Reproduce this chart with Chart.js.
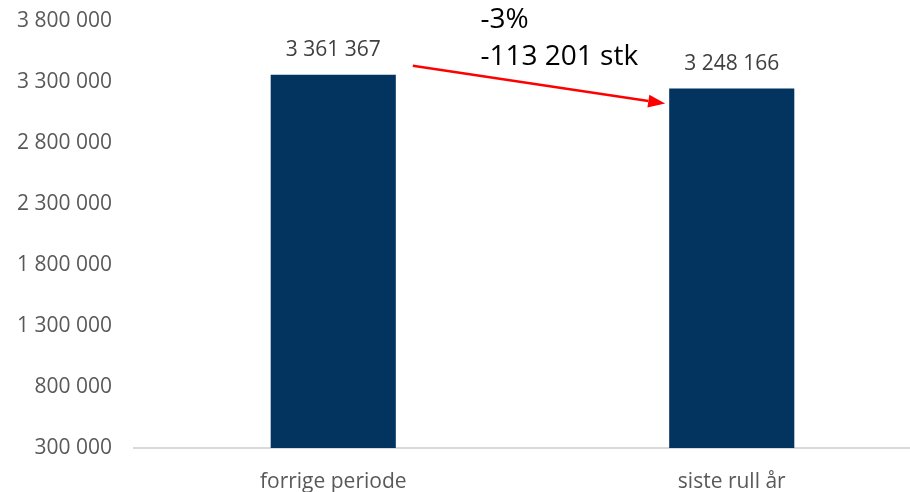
<!DOCTYPE html>
<html lang="no">
<head>
<meta charset="utf-8">
<script src="https://cdn.jsdelivr.net/npm/chart.js"></script>
<style>
    html, body { margin: 0; padding: 0; background: #fff; overflow: hidden; }
    .chart-box { width: 931px; height: 492px; position: relative; }
</style>
</head>
<body>
<div class="chart-box">
    <canvas id="salgChart"></canvas>
</div>
<script>
    const categories = ['forrige periode', 'siste rull år'];
    const values = [3361367, 3248166];
    const yMin = 300000;
    const yMax = 3800000;
    const yStep = 500000;

    const FONT = '"Open Sans", "Liberation Sans", sans-serif';

    // 3 361 367 style grouping
    function fmt(n) {
        const s = String(Math.abs(Math.round(n))).replace(/\B(?=(\d{3})+(?!\d))/g, ' ');
        return (n < 0 ? '-' : '') + s;
    }

    // value labels above the bars
    const valueLabels = {
        id: 'valueLabels',
        afterDatasetsDraw(chart) {
            const ctx = chart.ctx;
            const meta = chart.getDatasetMeta(0);
            ctx.save();
            ctx.font = '21px ' + FONT;
            ctx.fillStyle = '#404040';
            ctx.textAlign = 'center';
            ctx.textBaseline = 'middle';
            meta.data.forEach((bar, i) => {
                ctx.fillText(fmt(values[i]), bar.x, bar.y - 25);
            });
            ctx.restore();
        }
    };

    // red arrow between the bars plus change text
    const changeArrow = {
        id: 'changeArrow',
        afterDatasetsDraw(chart) {
            const ctx = chart.ctx;
            const meta = chart.getDatasetMeta(0);
            const a = meta.data[0], b = meta.data[1];
            const x1 = a.x + a.width / 2 + 17, y1 = a.y - 9;
            const x2 = b.x - b.width / 2 - 4, y2 = b.y + 15;
            const ang = Math.atan2(y2 - y1, x2 - x1);
            const headLen = 17, headHalf = 6.5;

            ctx.save();
            ctx.strokeStyle = '#ff0000';
            ctx.fillStyle = '#ff0000';
            ctx.lineWidth = 2.5;
            ctx.beginPath();
            ctx.moveTo(x1, y1);
            ctx.lineTo(x2 - Math.cos(ang) * headLen, y2 - Math.sin(ang) * headLen);
            ctx.stroke();
            ctx.beginPath();
            ctx.moveTo(x2, y2);
            ctx.lineTo(x2 - Math.cos(ang) * headLen + Math.sin(ang) * headHalf,
                       y2 - Math.sin(ang) * headLen - Math.cos(ang) * headHalf);
            ctx.lineTo(x2 - Math.cos(ang) * headLen - Math.sin(ang) * headHalf,
                       y2 - Math.sin(ang) * headLen + Math.cos(ang) * headHalf);
            ctx.closePath();
            ctx.fill();

            const diff = values[1] - values[0];
            const pct = Math.round(diff / values[0] * 100);
            const tx = (a.x + b.x) / 2 - 52;
            ctx.font = '28px ' + FONT;
            ctx.fillStyle = '#000000';
            ctx.textAlign = 'left';
            ctx.textBaseline = 'middle';
            ctx.fillText(pct + '%', tx, 20);
            ctx.fillText(fmt(diff) + ' stk', tx, 57);
            ctx.restore();
        }
    };

    new Chart(document.getElementById('salgChart'), {
        type: 'bar',
        data: {
            labels: categories,
            datasets: [{
                data: values,
                backgroundColor: '#03335f',
                borderWidth: 0,
                barPercentage: 1,
                categoryPercentage: 0.314
            }]
        },
        options: {
            responsive: true,
            maintainAspectRatio: false,
            animation: false,
            events: [],
            layout: { padding: 0 },
            plugins: {
                legend: { display: false },
                tooltip: { enabled: false }
            },
            scales: {
                x: {
                    grid: { display: false },
                    border: { display: true, color: '#d9d9d9', width: 2 },
                    ticks: {
                        color: '#595959',
                        font: { family: FONT, size: 21 },
                        padding: 13
                    },
                    afterFit(scale) { scale.height = 44; }
                },
                y: {
                    min: yMin,
                    max: yMax,
                    grid: { display: false },
                    border: { display: false },
                    ticks: {
                        stepSize: yStep,
                        color: '#595959',
                        font: { family: FONT, size: 21, lineHeight: 0.7 },
                        padding: 14,
                        callback: v => fmt(v)
                    },
                    afterFit(scale) { scale.width = 134; }
                }
            }
        },
        plugins: [valueLabels, changeArrow]
    });
</script>
</body>
</html>
